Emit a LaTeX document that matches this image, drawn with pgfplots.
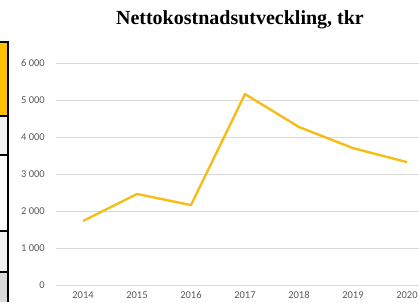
\documentclass[border=0pt]{standalone}
\usepackage{pgfplots}
\pgfplotsset{compat=1.18}
\usepackage{fontspec}
\setmainfont{Carlito}
\newfontfamily\titlefont{Liberation Serif}
\definecolor{gold}{RGB}{245,189,22}
\definecolor{gridgray}{RGB}{217,217,217}
\definecolor{labgray}{RGB}{89,89,89}
\definecolor{cellyellow}{RGB}{255,192,0}
\definecolor{cellgray}{RGB}{242,242,242}
\definecolor{celldark}{RGB}{217,217,217}
\begin{document}
\begin{tikzpicture}[x=1pt,y=1pt]
\begin{axis}[
  at={(0,0)}, anchor=south west,
  scale only axis,
  width=378pt, height=222pt,
  xmin=2013.5, xmax=2020.5,
  ymin=0, ymax=6000,
  xtick={2014,...,2020},
  ytick={0,1000,...,6000},
  xticklabel style={/pgf/number format/1000 sep={}},
  yticklabel style={/pgf/number format/1000 sep={\ }},
  /pgf/number format/assume math mode=true,
  axis line style={draw=none},
  major tick length=0pt,
  ymajorgrids,
  grid style={gridgray, line width=0.8pt},
  tick label style={font=\fontsize{10.5}{12}\selectfont, text=labgray, inner sep=0pt},
  yticklabel style={anchor=east, xshift=-11pt},
  xticklabel style={anchor=north, yshift=-6.5pt},
  clip=false,
]
\addplot[gold, line width=2.4pt, line join=round, mark=none] coordinates {
  (2014,1730) (2015,2460) (2016,2160) (2017,5160) (2018,4270) (2019,3700) (2020,3320)
};
\end{axis}
\node[anchor=base, font=\titlefont\bfseries\fontsize{20}{22}\selectfont, inner sep=0pt] at (184,260) {Nettokostnadsutveckling, tkr};
% fragment of table at the left edge
\fill[cellyellow] (-56,243) rectangle (-48,169);
\fill[cellgray] (-56,169) rectangle (-48,130);
\fill[cellgray] (-56,54) rectangle (-48,13);
\fill[celldark] (-56,13) rectangle (-48,-17);
\draw[black, line width=2pt] (-48,244) -- (-48,-17);
\foreach \yy in {243,169,130,54,13} {\draw[black, line width=2pt] (-56,\yy) -- (-48,\yy);}
\pgfresetboundingbox
\useasboundingbox (-56,-17) rectangle (363,285);
\end{tikzpicture}
\end{document}
